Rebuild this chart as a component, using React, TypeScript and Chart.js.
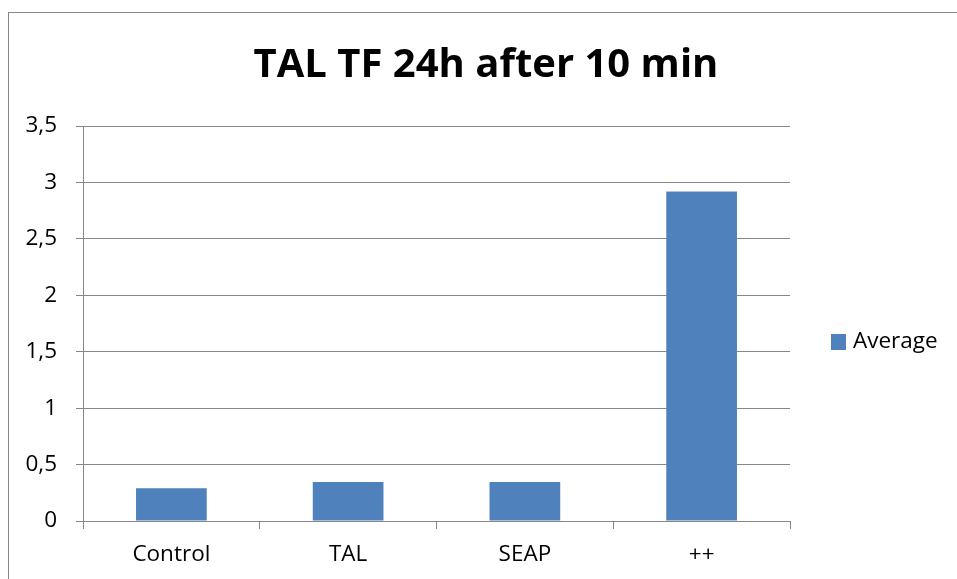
import React, { useEffect, useRef } from "react";
import { Chart, registerables } from "chart.js";

Chart.register(...registerables);

const TITLE = "TAL TF 24h after 10 min";
const categories = ["Control", "TAL", "SEAP", "++"];
const averageValues = [0.29, 0.345, 0.345, 2.92];
const seriesLabel = "Average";
const yMin = 0;
const yMax = 3.5;
const yStep = 0.5;

const FONT = "'Open Sans', 'Noto Sans', sans-serif";
const GRID = "#878787";
const BAR = "#4F81BD";
const LABEL_SIZE = 22.5;

const decorPlugin = {
  id: "decor",
  beforeDraw(chart: any) {
    const ctx = chart.ctx;
    ctx.save();
    ctx.fillStyle = "#ffffff";
    ctx.fillRect(0, 0, chart.width, chart.height);
    ctx.strokeStyle = GRID;
    ctx.lineWidth = 1;
    ctx.strokeRect(8.5, 12.5, chart.width + 20, chart.height + 20);
    ctx.restore();
  },
  afterDraw(chart: any) {
    const ctx = chart.ctx;
    ctx.save();
    ctx.fillStyle = "#000";
    ctx.font = `bold 40px ${FONT}`;
    ctx.textAlign = "center";
    ctx.textBaseline = "alphabetic";
    ctx.fillText(TITLE, 486, 77);

    const ds = chart.data.datasets[0];
    const lx = chart.chartArea.right + 41;
    ctx.fillStyle = ds.backgroundColor;
    ctx.fillRect(lx, 334, 15, 16);
    ctx.fillStyle = "#000";
    ctx.font = `${LABEL_SIZE}px ${FONT}`;
    ctx.textAlign = "left";
    ctx.textBaseline = "middle";
    ctx.fillText(ds.label, lx + 22, 342);
    ctx.restore();
  },
};

export default function App() {
  const ref = useRef<HTMLCanvasElement>(null);

  useEffect(() => {
    if (!ref.current) return;
    const chart = new Chart(ref.current, {
      type: "bar",
      data: {
        labels: categories,
        datasets: [
          {
            label: seriesLabel,
            data: averageValues,
            backgroundColor: BAR,
            borderWidth: 0,
            categoryPercentage: 1,
            barPercentage: 0.4,
          },
        ],
      },
      options: {
        responsive: false,
        animation: false,
        layout: { padding: { top: 126, right: 167, left: 0, bottom: 0 } },
        plugins: {
          legend: { display: false },
          title: { display: false },
          tooltip: { enabled: false },
        },
        scales: {
          x: {
            grid: {
              display: true,
              drawOnChartArea: false,
              drawTicks: true,
              tickLength: 8,
              color: GRID,
              offset: true,
            },
            border: { display: true, color: GRID, width: 1 },
            ticks: { color: "#000", font: { family: FONT, size: LABEL_SIZE }, padding: 12 },
            afterFit(scale: any) {
              scale.height = 58;
            },
          },
          y: {
            min: yMin,
            max: yMax,
            ticks: {
              stepSize: yStep,
              color: "#000",
              font: { family: FONT, size: LABEL_SIZE },
              padding: 19,
              callback: (v: any) => String(v).replace(".", ","),
            },
            grid: { color: GRID, lineWidth: 1, tickLength: 7, drawTicks: true },
            border: { display: true, color: GRID, width: 1 },
            afterFit(scale: any) {
              scale.width = 83;
            },
          },
        },
      },
      plugins: [decorPlugin],
    });
    return () => chart.destroy();
  }, []);

  return (
    <div style={{ position: "fixed", left: 0, top: 0, width: 957, height: 579, background: "#fff" }}>
      <canvas ref={ref} width={957} height={579} />
    </div>
  );
}
